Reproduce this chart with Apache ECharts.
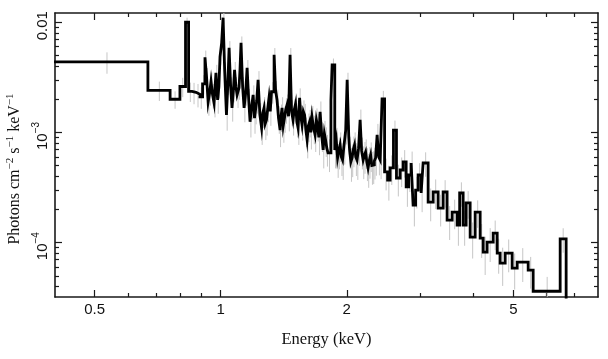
<!DOCTYPE html>
<html><head><meta charset="utf-8">
<script src="https://cdn.jsdelivr.net/npm/echarts@6/dist/echarts.min.js"></script>
<style>html,body{margin:0;padding:0;background:#fff}#c{width:608px;height:359px}</style>
</head><body><div id="c"></div>
<script>
// Bin edges (keV): left edge of each bin, plus final right edge
const binEdges = [
0.40, 0.670, 0.757, 0.799, 0.824, 0.838, 0.854, 0.873, 0.892, 0.905,
0.917, 0.925, 0.933, 0.941, 0.948, 0.956, 0.964, 0.974, 0.983, 0.990,
0.996, 1.005, 1.013, 1.022, 1.032, 1.040, 1.047, 1.056, 1.064, 1.072,
1.079, 1.087, 1.094, 1.106, 1.112, 1.118, 1.128, 1.137, 1.147, 1.156,
1.166, 1.175, 1.186, 1.195, 1.204, 1.211, 1.219, 1.228, 1.240, 1.252,
1.260, 1.269, 1.277, 1.286, 1.295, 1.304, 1.313, 1.322, 1.341, 1.352,
1.363, 1.374, 1.386, 1.393, 1.401, 1.410, 1.420, 1.430, 1.440, 1.452,
1.464, 1.476, 1.488, 1.498, 1.509, 1.520, 1.530, 1.543, 1.553, 1.564,
1.575, 1.586, 1.597, 1.608, 1.619, 1.630, 1.641, 1.652, 1.666, 1.680,
1.692, 1.703, 1.715, 1.727, 1.742, 1.756, 1.768, 1.780, 1.792, 1.804,
1.833, 1.845, 1.872, 1.888, 1.901, 1.914, 1.928, 1.941, 1.954, 1.968,
1.988, 2.004, 2.022, 2.031, 2.045, 2.059, 2.073, 2.087, 2.101, 2.116,
2.134, 2.152, 2.170, 2.188, 2.203, 2.218, 2.233, 2.248, 2.264, 2.280,
2.295, 2.311, 2.327, 2.343, 2.363, 2.383, 2.403, 2.428, 2.462, 2.503,
2.538, 2.585, 2.628, 2.682, 2.727, 2.772, 2.810, 2.849, 2.880, 2.920,
2.960, 3.010, 3.043, 3.128, 3.216, 3.305, 3.397, 3.472, 3.570, 3.669,
3.720, 3.792, 3.855, 3.941, 4.051, 4.164, 4.234, 4.326, 4.473, 4.573,
4.648, 4.778, 4.965, 5.104, 5.422, 5.573, 6.465, 6.681
];
// Photons cm^-2 s^-1 keV^-1 in each bin
const flux = [
4.37e-3, 2.41e-3, 2.00e-3, 2.61e-3, 1.00e-2, 2.36e-3, 2.31e-3, 2.22e-3, 2.10e-3, 2.76e-3,
4.81e-3, 3.20e-3, 1.89e-3, 2.30e-3, 2.91e-3, 2.20e-3, 1.85e-3, 3.48e-3, 1.97e-3, 2.60e-3,
4.85e-3, 6.50e-3, 1.10e-2, 3.60e-3, 1.44e-3, 2.80e-3, 5.86e-3, 2.60e-3, 1.67e-3, 2.40e-3,
3.70e-3, 2.60e-3, 2.19e-3, 2.54e-3, 3.80e-3, 6.52e-3, 2.60e-3, 1.67e-3, 2.30e-3, 3.85e-3,
2.00e-3, 1.25e-3, 1.75e-3, 2.19e-3, 1.35e-3, 1.60e-3, 1.95e-3, 3.00e-3, 1.45e-3, 1.10e-3,
1.50e-3, 1.67e-3, 1.20e-3, 1.30e-3, 1.65e-3, 2.06e-3, 1.55e-3, 2.34e-3, 5.07e-3, 2.40e-3,
1.97e-3, 1.35e-3, 1.05e-3, 1.40e-3, 1.67e-3, 1.15e-3, 1.36e-3, 1.62e-3, 1.78e-3, 1.40e-3,
5.07e-3, 1.55e-3, 1.30e-3, 1.60e-3, 1.82e-3, 1.25e-3, 1.10e-3, 2.06e-3, 1.40e-3, 1.17e-3,
1.55e-3, 1.44e-3, 1.05e-3, 8.55e-4, 1.15e-3, 1.25e-3, 1.00e-3, 1.38e-3, 1.10e-3, 9.49e-4,
1.30e-3, 1.15e-3, 9.00e-4, 1.54e-3, 9.50e-4, 6.93e-4, 9.80e-4, 8.55e-4, 7.20e-4, 6.52e-4,
1.97e-3, 4.11e-3, 6.93e-4, 8.40e-4, 5.86e-4, 6.80e-4, 7.69e-4, 6.00e-4, 5.62e-4, 7.40e-4,
1.05e-3, 3.00e-3, 9.00e-4, 6.93e-4, 5.40e-4, 5.86e-4, 7.00e-4, 7.69e-4, 6.00e-4, 5.62e-4,
7.20e-4, 1.30e-3, 6.80e-4, 5.62e-4, 6.20e-4, 6.65e-4, 5.40e-4, 4.76e-4, 5.60e-4, 6.24e-4,
5.00e-4, 5.07e-4, 5.50e-4, 5.86e-4, 9.49e-4, 6.00e-4, 5.62e-4, 2.02e-3, 4.38e-4, 3.70e-4,
4.76e-4, 1.05e-3, 3.86e-4, 4.56e-4, 5.40e-4, 3.20e-4, 4.11e-4, 5.28e-4, 2.19e-4, 3.00e-4,
4.11e-4, 2.82e-4, 5.28e-4, 2.33e-4, 2.88e-4, 2.06e-4, 2.88e-4, 1.60e-4, 1.89e-4, 1.44e-4,
2.82e-4, 1.44e-4, 2.29e-4, 1.12e-4, 1.89e-4, 1.10e-4, 8.20e-5, 1.01e-4, 1.22e-4, 8.03e-5,
6.52e-5, 8.03e-5, 5.86e-5, 6.65e-5, 5.62e-5, 3.62e-5, 1.08e-4
];
// relative 1-sigma error of each bin
const relErr = [
0.22, 0.2, 0.18, 0.2, 0.1, 0.2, 0.22, 0.24, 0.22, 0.2,
0.15, 0.2, 0.25, 0.24, 0.2, 0.25, 0.26, 0.18, 0.25, 0.22,
0.16, 0.14, 0.12, 0.2, 0.28, 0.22, 0.15, 0.22, 0.25, 0.22,
0.18, 0.22, 0.24, 0.22, 0.18, 0.14, 0.22, 0.26, 0.24, 0.18,
0.24, 0.28, 0.25, 0.22, 0.28, 0.26, 0.24, 0.2, 0.27, 0.3,
0.27, 0.25, 0.29, 0.28, 0.25, 0.22, 0.26, 0.22, 0.15, 0.22,
0.24, 0.28, 0.3, 0.28, 0.25, 0.3, 0.27, 0.26, 0.24, 0.27,
0.15, 0.26, 0.28, 0.26, 0.24, 0.28, 0.3, 0.22, 0.27, 0.28,
0.26, 0.26, 0.3, 0.32, 0.29, 0.28, 0.3, 0.26, 0.29, 0.3,
0.27, 0.28, 0.31, 0.24, 0.3, 0.32, 0.3, 0.3, 0.32, 0.33,
0.2, 0.14, 0.32, 0.31, 0.34, 0.32, 0.3, 0.33, 0.34, 0.31,
0.26, 0.16, 0.3, 0.32, 0.34, 0.33, 0.31, 0.3, 0.33, 0.34,
0.31, 0.24, 0.32, 0.33, 0.32, 0.3, 0.33, 0.34, 0.32, 0.3,
0.33, 0.33, 0.32, 0.31, 0.26, 0.32, 0.33, 0.18, 0.32, 0.35,
0.3, 0.22, 0.32, 0.3, 0.28, 0.34, 0.3, 0.27, 0.36, 0.32,
0.28, 0.33, 0.25, 0.33, 0.3, 0.32, 0.28, 0.34, 0.3, 0.35,
0.25, 0.35, 0.28, 0.36, 0.28, 0.34, 0.38, 0.34, 0.3, 0.35,
0.38, 0.33, 0.36, 0.34, 0.32, 0.35, 0.25
];
const xTickValues = [0.5, 1, 2, 5];
const xTickLabels = ['0.5', '1', '2', '5'];
const xMinorTicks = [0.6, 0.7, 0.8, 0.9, 3, 4, 6, 7];
const yTickValues = [1e-4, 1e-3, 1e-2];
const yTickLabels = ['10^-4', '10^-3', '0.01'];
const yMinorTicks = [4e-5,5e-5,6e-5,7e-5,8e-5,9e-5,2e-4,3e-4,4e-4,5e-4,6e-4,7e-4,8e-4,9e-4,2e-3,3e-3,4e-3,5e-3,6e-3,7e-3,8e-3,9e-3];
const xRange = [0.402, 7.96];
const yRange = [3.21e-5, 0.01213];

const L = Math.log10;
const sans = 'Liberation Sans, Arial, Helvetica, sans-serif';
const serif = 'Liberation Serif, Times New Roman, serif';
const axisColor = '#1a1a1a';

const lineData = binEdges.map((e, i) => [L(e), L(i < flux.length ? flux[i] : 1e-8)]);
const errData = flux.map((f, i) => {
  const c = (binEdges[i] + binEdges[i + 1]) / 2;
  const r = relErr[i] || 0.25;
  return [L(c), L(f * (1 - r)), L(f * (1 + r))];
});

function findIdx(vals, v) {
  for (let i = 0; i < vals.length; i++) if (Math.abs(L(vals[i]) - v) < 1e-6) return i;
  return -1;
}
function xFmt(v) { const i = findIdx(xTickValues, v); return i >= 0 ? xTickLabels[i] : ''; }
function yFmt(v) {
  const i = findIdx(yTickValues, v);
  if (i < 0) return '';
  const t = yTickLabels[i];
  if (t.indexOf('^') >= 0) {
    const [b, e] = t.split('^');
    return '{b|' + b + '}{s|' + e.replace('-', '\u2212') + '}';
  }
  return '{b|' + t + '}';
}

const xMin = L(xRange[0]), xMax = L(xRange[1]);
const yMin = L(yRange[0]), yMax = L(yRange[1]);
const axLine = { show: true, onZero: false, lineStyle: { color: axisColor, width: 1.6 } };
const noLine = { show: false, onZero: false };
const tickStyle = { color: axisColor, width: 1.2 };

function xAx(pos, major, withLabel) {
  const o = {
    type: 'value', position: pos, min: xMin, max: xMax, gridIndex: 0,
    axisLine: major ? axLine : noLine,
    axisTick: { show: true, inside: true, length: major ? 7 : 4, lineStyle: tickStyle,
      customValues: (major ? xTickValues : xMinorTicks).map(L) },
    splitLine: { show: false },
    axisLabel: { show: false }
  };
  if (withLabel) {
    o.axisLabel = { show: true, customValues: xTickValues.map(L), formatter: xFmt, margin: 5,
      fontFamily: sans, fontSize: 15, color: '#111' };
    o.name = 'Energy (keV)';
    o.nameLocation = 'middle';
    o.nameGap = 34;
    o.nameTextStyle = { fontFamily: serif, fontSize: 16.5, color: '#111' };
  }
  return o;
}
function yAx(pos, major, withLabel) {
  const o = {
    type: 'value', position: pos, min: yMin, max: yMax, gridIndex: 0,
    axisLine: major ? axLine : noLine,
    axisTick: { show: true, inside: true, length: major ? 7 : 4, lineStyle: tickStyle,
      customValues: (major ? yTickValues : yMinorTicks).map(L) },
    splitLine: { show: false },
    axisLabel: { show: false }
  };
  if (withLabel) {
    o.axisLabel = { show: true, customValues: yTickValues.map(L), formatter: yFmt, margin: 5, rotate: 90,
      color: '#111', padding: [0, 7, 0, 0],
      rich: {
        b: { fontFamily: sans, fontSize: 15, color: '#111', verticalAlign: 'bottom' },
        s: { fontFamily: sans, fontSize: 10, color: '#111', verticalAlign: 'bottom', padding: [0, 0, 9, 0] }
      } };
    o.name = '{t|Photons cm}{s|\u22122}{t| s}{s|\u22121}{t| keV}{s|\u22121}';
    o.nameLocation = 'middle';
    o.nameGap = 28;
    o.nameTextStyle = { padding: [0, 28, 0, 0],
      rich: {
        t: { fontFamily: serif, fontSize: 16, color: '#111', verticalAlign: 'bottom' },
        s: { fontFamily: serif, fontSize: 11, color: '#111', verticalAlign: 'bottom', padding: [0, 0, 7, 0] }
      } };
  }
  return o;
}

const chart = echarts.init(document.getElementById('c'), null, { renderer: 'canvas' });
chart.setOption({
  animation: false,
  backgroundColor: '#fff',
  grid: { left: 55, right: 10, top: 13, bottom: 62, containLabel: false, outerBoundsMode: 'none' },
  xAxis: [xAx('bottom', true, true), xAx('bottom', false, false), xAx('top', true, false), xAx('top', false, false)],
  yAxis: [yAx('left', true, true), yAx('left', false, false), yAx('right', true, false), yAx('right', false, false)],
  series: [
    {
      type: 'custom', xAxisIndex: 0, yAxisIndex: 0, silent: true, z: 1, clip: true,
      data: errData,
      renderItem: function (params, api) {
        const p1 = api.coord([api.value(0), api.value(1)]);
        const p2 = api.coord([api.value(0), api.value(2)]);
        return { type: 'line', shape: { x1: p1[0], y1: p1[1], x2: p2[0], y2: p2[1] },
          style: { stroke: '#c6c6c6', lineWidth: 1 } };
      }
    },
    {
      type: 'line', xAxisIndex: 0, yAxisIndex: 0, step: 'end', symbol: 'none', z: 3, clip: true,
      data: lineData,
      lineStyle: { color: '#000', width: 2.8, join: 'miter' }
    }
  ]
});
</script></body></html>
